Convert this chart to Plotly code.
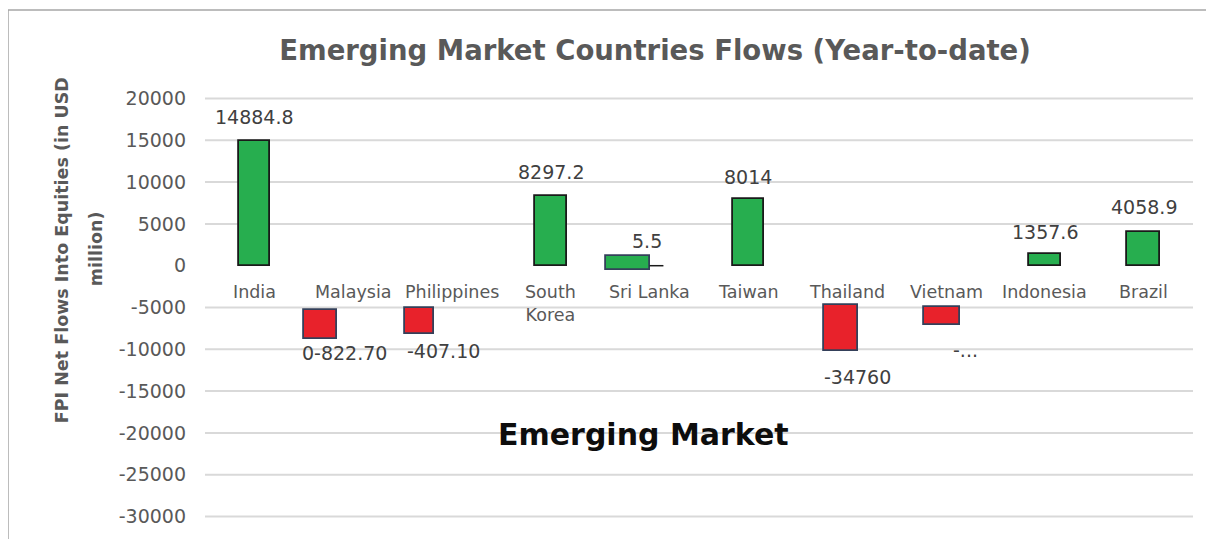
import plotly.graph_objects as go

# ---------------- data ----------------
countries = ["India", "Malaysia", "Philippines", "South<br>Korea", "Sri Lanka",
             "Taiwan", "Thailand", "Vietnam", "Indonesia", "Brazil"]
value_labels = ["14884.8", "0-822.70", "-407.10", "8297.2", "5.5",
                "8014", "-34760", "-...", "1357.6", "4058.9"]
bar_low = [0, -8800, -8200, 0, -480, 0, -10200, -7150, 0, 0]
bar_high = [14884.8, -5350, -5100, 8297.2, 1190, 8014, -4750, -4880, 1357.6, 4058.9]
y_ticks = [20000, 15000, 10000, 5000, 0, -5000, -10000, -15000, -20000, -25000, -30000]
y_tick_text = [str(v) for v in y_ticks]

# ---------------- styling ----------------
GREEN = "#27AE4F"
RED = "#E8222B"
GRAY = "#595959"
FONT = "DejaVu Sans"
OFF = 8                     # page body margin (left/top)
W, H = 1214 - OFF * 2, 539 - OFF
Y_MIN, Y_MAX = -30300, 20300
PX_PER_UNIT = 422 / 50000
PL, PR = 205 - OFF, 1193 - OFF
PT = round(99 - OFF - (Y_MAX - 20000) * PX_PER_UNIT)
PB = round(521 - OFF + (-30000 - Y_MIN) * PX_PER_UNIT)
PW, PH = PR - PL, PB - PT


def px_x(page_x):
    return (page_x - OFF - PL) / PW


def px_y(page_y):
    return (PB - (page_y - OFF)) / PH


bar_shift = [0, -0.33, -0.33, 0, -0.22, 0, -0.06, -0.04, 0, 0]      # category units
bar_width = [0.32, 0.33, 0.30, 0.32, 0.44, 0.32, 0.34, 0.36, 0.32, 0.33]
label_dx = [0, -0.09, -0.09, 0, -0.03, 0, 0.1, 0.2, 0, 0]
label_dy = [24, -14, -17, 24, 15, 22, -26, -25, 22, 25]

colors = [GREEN if hi > 0 else RED for hi in bar_high]
outline = ["#1A1A1A" if c == GREEN else "#34405A" for c in colors]
outline[4] = "#34405A"

xs = [i + s for i, s in enumerate(bar_shift)]

fig = go.Figure()
fig.add_trace(go.Bar(
    x=xs,
    y=[h - l for l, h in zip(bar_low, bar_high)],
    base=bar_low,
    width=bar_width,
    marker=dict(color=colors, line=dict(color=outline, width=1.8)),
    hoverinfo="skip",
    showlegend=False,
))

annotations = []
for i, name in enumerate(countries):
    annotations.append(dict(
        x=i, y=0, xref="x", yref="y", text=name, showarrow=False,
        yanchor="top", yshift=-14, font=dict(family=FONT, size=17.5, color=GRAY),
    ))
for i, txt in enumerate(value_labels):
    end = bar_high[i] if label_dy[i] > 0 else bar_low[i]
    annotations.append(dict(
        x=i + label_dx[i], y=end, xref="x", yref="y", text=txt, showarrow=False,
        yanchor="middle", yshift=label_dy[i],
        font=dict(family=FONT, size=19, color="#404040"),
    ))
annotations.append(dict(
    x=px_x(50), y=px_y(252), xref="paper", yref="paper",
    text="<b>FPI Net Flows Into Equities (in USD</b>", showarrow=False, textangle=-90,
    font=dict(family=FONT, size=17.5, color=GRAY),
))
annotations.append(dict(
    x=px_x(84), y=px_y(251), xref="paper", yref="paper",
    text="<b>million)</b>", showarrow=False, textangle=-90,
    font=dict(family=FONT, size=17.5, color=GRAY),
))
annotations.append(dict(
    x=px_x(643), y=px_y(458), xref="paper", yref="paper",
    text="<b>Emerging Market</b>", showarrow=False,
    font=dict(family=FONT, size=30, color="#0D0D0D"),
))

shapes = []
for v in y_ticks:
    if v == 0:
        continue
    shapes.append(dict(type="line", xref="paper", yref="y", x0=0, x1=1, y0=v, y1=v,
                       line=dict(color="#D9D9D9", width=2), layer="below"))
sl_edge = 4 + bar_shift[4] + bar_width[4] / 2
shapes.append(dict(type="line", xref="x", yref="y", x0=sl_edge, x1=sl_edge + 0.14,
                   y0=0, y1=0, line=dict(color="#1A1A1A", width=1.5)))
shapes.append(dict(type="line", xref="paper", yref="paper",
                   x0=px_x(8), x1=px_x(1240), y0=px_y(9), y1=px_y(9),
                   line=dict(color="#A6A6A6", width=1.5)))
shapes.append(dict(type="line", xref="paper", yref="paper",
                   x0=px_x(8), x1=px_x(8), y0=px_y(9), y1=px_y(560),
                   line=dict(color="#A6A6A6", width=1.5)))

fig.update_layout(
    width=W, height=H,
    margin=dict(l=PL, r=W - PR, t=PT, b=H - PB),
    paper_bgcolor="white", plot_bgcolor="white",
    title=dict(text="<b>Emerging Market Countries Flows (Year-to-date)</b>",
               x=(655 - OFF) / W, xanchor="center", y=1 - (50 - OFF) / H, yanchor="middle",
               font=dict(family=FONT, size=27.5, color=GRAY)),
    xaxis=dict(range=[-0.5, 9.5], showticklabels=False, showgrid=False,
               zeroline=False, showline=False, fixedrange=True),
    yaxis=dict(range=[Y_MIN, Y_MAX], tickvals=y_ticks, ticktext=y_tick_text,
               showgrid=False, zeroline=False, showline=False, ticks="",
               tickfont=dict(family=FONT, size=19, color=GRAY),
               ticklabelstandoff=18, fixedrange=True),
    annotations=annotations,
    shapes=shapes,
    bargap=0,
)

fig.write_html("out.html", config={"displayModeBar": False},
               post_script="document.body.style.marginBottom='0';"
                           "document.documentElement.style.overflow='hidden';")
